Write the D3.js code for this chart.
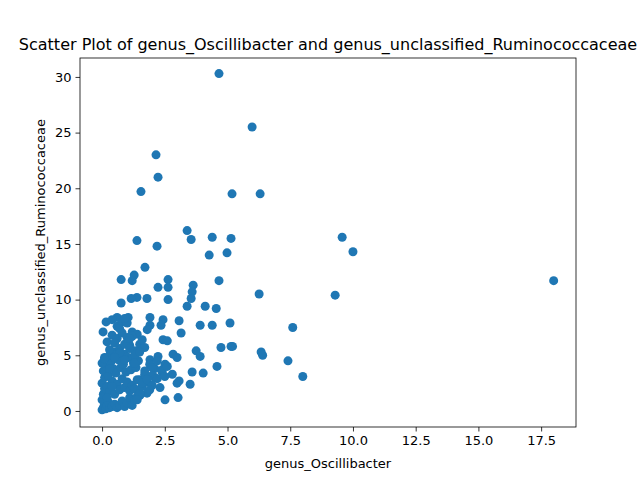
<!DOCTYPE html>
<html><head><meta charset="utf-8">
<script src="https://cdn.jsdelivr.net/npm/d3@7"></script>
<style>body{margin:0;background:#fff}text{font-family:"DejaVu Sans",sans-serif}</style>
</head><body>
<svg id="chart" width="640" height="480"></svg>
<script>
var title = 'Scatter Plot of genus_Oscillibacter and genus_unclassified_Ruminococcaceae';
var xLabel = 'genus_Oscillibacter', yLabel = 'genus_unclassified_Ruminococcaceae';
var xTicks = [0, 2.5, 5, 7.5, 10, 12.5, 15, 17.5];
var yTicks = [0, 5, 10, 15, 20, 25, 30];

/*Oscillibacter values*/
var xs = [4.66,5.98,2.15,2.23,1.55,5.18,6.3,9.57,10.0,18.0,9.29,6.26,7.6,7.41,8.0,6.34,6.4,
  3.39,3.55,4.39,5.14,4.98,4.27,1.39,2.19,1.71,1.28,1.2,0.76,4.66,3.63,2.63,2.63,2.23,3.59,3.55,
  1.79,1.39,1.16,0.76,2.63,3.39,4.11,4.55,5.1,3.91,4.39,3.07,3.15,2.43,2.35,1.91,1.91,1.04,0.6,
  0.4,0.16,0.04,2.43,2.6,3.75,3.91,4.74,5.14,5.2,2.83,2.99,3.59,4.03,4.58,3.51,3.07,2.99,3.03,
  2.51,1.79,2.31,2.39,2.11,1.91,2.23,2.51,1.51,1.51,
  0.0,0.05,0.1,0.0,0.15,0.2,0.3,0.05,0.1,0.25,0.4,0.5,0.6,0.7,0.8,0.9,1.0,1.1,1.2,1.3,1.4,
  0.0,0.1,0.2,0.3,0.4,0.5,0.6,0.7,0.8,0.9,1.0,1.1,1.2,1.3,1.4,1.5,1.6,1.7,1.8,
  0.05,0.15,0.25,0.35,0.45,0.55,0.65,0.75,0.85,0.95,1.05,1.15,1.25,1.35,1.45,
  0.1,0.3,0.5,0.7,0.9,1.1,1.3,1.5,1.7,1.9,2.1,
  0.2,0.4,0.6,0.8,1.0,1.2,1.4,1.6,1.8,2.0,
  0.3,0.5,0.7,0.9,1.1,1.3,1.5,0.6,0.8,1.0,1.2,0.7,0.9,1.1,0.5,0.9,1.3,1.7,2.0,2.2,2.4,2.6,2.8,
  1.6,1.8,2.0,2.2,2.5,1.4,1.9,0.2,0.4,0.0,0.1,0.3];
/*unclassified Ruminococcaceae values*/
var ys = [30.3,25.5,23.0,21.0,19.7,19.5,19.5,15.6,14.3,11.7,10.4,10.5,7.5,4.5,3.1,5.3,5.0,
  16.2,15.4,15.6,15.5,14.2,14.0,15.3,14.8,12.9,12.2,11.7,11.8,11.7,11.3,11.8,11.1,11.1,10.7,10.1,
  10.1,10.2,10.1,9.7,10.0,9.4,9.4,9.2,7.9,7.7,7.7,8.1,7.0,8.2,7.7,8.4,7.7,8.4,8.4,
  8.2,8.0,7.1,6.4,6.3,5.4,4.9,5.7,5.8,5.8,5.1,4.8,3.5,3.4,4.0,2.4,2.7,2.5,1.2,
  1.0,1.6,2.1,3.5,3.0,4.6,4.9,4.2,1.4,2.8,
  0.1,0.3,0.6,1.0,0.2,0.5,0.3,1.5,2.0,0.8,0.4,0.6,0.3,0.5,0.9,0.4,0.7,1.2,0.5,1.0,1.3,
  2.5,3.0,2.2,1.8,2.7,1.5,2.4,1.9,2.9,2.1,2.6,1.8,2.3,2.0,2.8,1.6,2.2,3.3,2.6,
  3.6,4.0,3.2,4.4,3.8,3.4,4.6,3.9,4.2,3.5,4.8,3.7,4.3,3.9,4.5,
  4.8,5.0,5.3,5.6,5.1,5.9,5.4,6.0,5.7,4.2,3.8,
  6.2,6.8,6.5,7.0,6.6,7.1,6.9,6.4,7.3,3.2,
  5.5,6.1,5.2,6.0,5.6,5.0,5.3,7.6,8.0,7.9,6.7,7.4,8.3,6.5,4.8,4.6,4.3,3.6,3.9,4.5,3.7,4.0,3.3,
  2.5,2.8,2.3,2.9,3.1,1.0,1.9,1.2,2.2,4.3,4.7,3.8];

var svg = d3.select('#chart'),
    margin = {top: 58, right: 64, bottom: 53, left: 80},
    width = 640 - margin.left - margin.right,
    height = 480 - margin.top - margin.bottom;

var x = d3.scaleLinear().domain([-0.88, 18.89]).range([0, width]),
    y = d3.scaleLinear().domain([-1.44, 31.7]).range([height, 0]);

var g = svg.append('g')
    .attr('transform', 'translate(' + margin.left + ',' + margin.top + ')');

g.selectAll('.dot')
  .data(d3.range(xs.length))
  .enter().append('circle')
    .attr('cx', function(i) { return x(xs[i]); })
    .attr('cy', function(i) { return y(ys[i]); })
    .attr('r', 4.5)
    .attr('fill', '#1f77b4');

var xAxis = g.append('g')
    .attr('transform', 'translate(0,' + height + ')')
    .call(d3.axisBottom(x).tickValues(xTicks).tickFormat(d3.format('.1f')).tickSizeOuter(0).tickSize(4.5).tickPadding(4));
var yAxis = g.append('g')
    .call(d3.axisLeft(y).tickValues(yTicks).tickFormat(d3.format('d')).tickSizeOuter(0).tickSize(4.5).tickPadding(4));
[xAxis, yAxis].forEach(function(a) {
  a.select('.domain').remove();
  a.selectAll('text').attr('font-size', 13).attr('fill', '#000').style('font-family', 'DejaVu Sans');
  a.selectAll('line').attr('stroke', '#000').attr('stroke-width', 0.8);
});

g.append('rect').attr('width', width).attr('height', height)
  .attr('fill', 'none').attr('stroke', '#000').attr('stroke-width', 0.8);

svg.append('text').attr('x', margin.left + width / 2).attr('y', 50)
  .attr('text-anchor', 'middle').attr('font-size', 16).text(title);
svg.append('text').attr('x', margin.left + width / 2).attr('y', 468)
  .attr('text-anchor', 'middle').attr('font-size', 13).text(xLabel);
svg.append('text').attr('transform', 'translate(45,' + (margin.top + height / 2) + ') rotate(-90)')
  .attr('text-anchor', 'middle').attr('font-size', 13).text(yLabel);
</script>
</body></html>
